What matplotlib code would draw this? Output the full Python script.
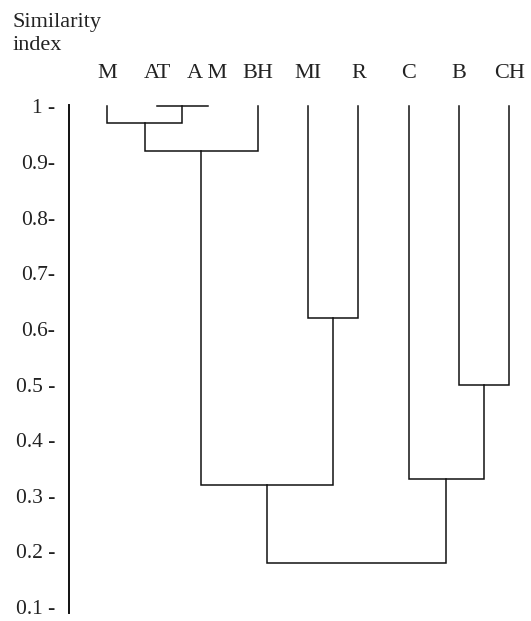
import matplotlib
matplotlib.use("Agg")
import matplotlib.pyplot as plt

plt.rcParams["font.family"] = ["Liberation Serif", "DejaVu Serif"]

# leaves in drawing order
leaves = ["M", "AT", "A M", "BH", "MI", "R", "C", "B", "CH"]
leaf_sim = 1.0

# merges: children are leaf indices (0..8) or previous merges (9, 10, ...)
merge_left = [1, 0, 10, 4, 11, 7, 6, 13]
merge_right = [2, 9, 3, 5, 12, 8, 14, 15]
merge_sim = [1.0, 0.97, 0.92, 0.62, 0.32, 0.50, 0.33, 0.18]

tick_values = [1.0, 0.9, 0.8, 0.7, 0.6, 0.5, 0.4, 0.3, 0.2, 0.1]
tick_labels = ["1 -", "0.9-", "0.8-", "0.7-", "0.6-", "0.5 -", "0.4 -", "0.3 -", "0.2 -", "0.1 -"]

FS = 16
TXT = "#222222"
LINE = "#111111"

fig = plt.figure(figsize=(5.31, 6.21), dpi=100)
ax = fig.add_axes([69 / 531, 0, 1 - 69 / 531, 1])

# node positions: leaves at 0..n-1, merges at mean of children
xs = list(range(len(leaves)))
hs = [leaf_sim] * len(leaves)
for a, b, s in zip(merge_left, merge_right, merge_sim):
    ax.plot([xs[a], xs[a], xs[b], xs[b]], [hs[a], s, s, hs[b]],
            color=LINE, lw=1.1, solid_joinstyle="miter")
    xs.append((xs[a] + xs[b]) / 2)
    hs.append(s)

for i, name in enumerate(leaves):
    ax.text(i, 1.064, name, ha="center", va="center_baseline", fontsize=FS, color=TXT)

ax.set_xlim(-0.755, 8.43)
ax.set_ylim(0.075, 1.191)

ax.set_xticks([])
ax.set_yticks(tick_values)
ax.set_yticklabels(tick_labels, fontsize=15.5, color=TXT, va="center_baseline")
ax.tick_params(axis="y", length=0, pad=10)

for side in ["top", "right", "bottom"]:
    ax.spines[side].set_visible(False)
ax.spines["left"].set_bounds(0.09, 1.003)
ax.spines["left"].set_linewidth(1.4)
ax.spines["left"].set_color(LINE)

fig.text(13 / 531, 1 - 13 / 621, "Similarity\nindex", ha="left", va="top",
         fontsize=FS, linespacing=1.3, color=TXT)

fig.savefig("out.png", dpi=100)
